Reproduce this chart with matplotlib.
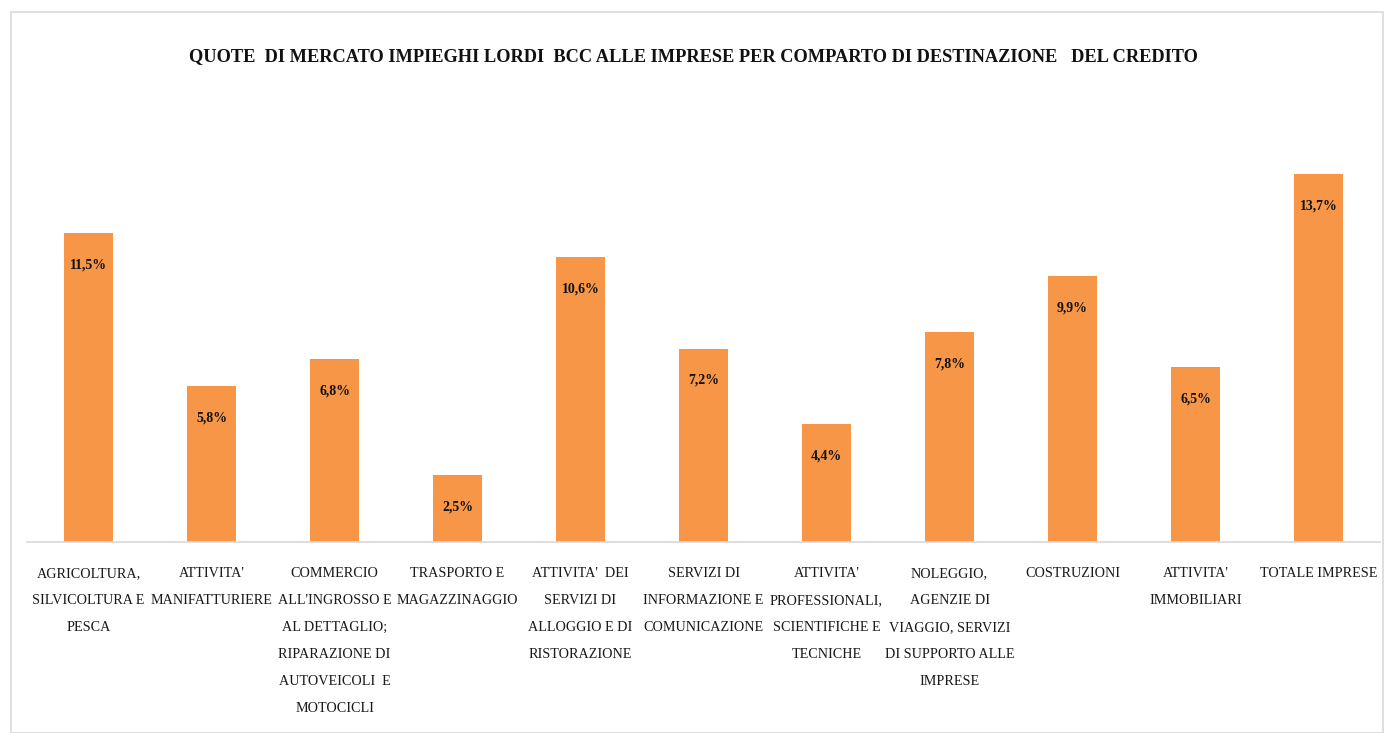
import matplotlib
matplotlib.use("Agg")
import matplotlib.pyplot as plt
from matplotlib.patches import Rectangle

categories = [
    "AGRICOLTURA,\nSILVICOLTURA E\nPESCA",
    "ATTIVITA'\nMANIFATTURIERE",
    "COMMERCIO\nALL'INGROSSO E\nAL DETTAGLIO;\nRIPARAZIONE DI\nAUTOVEICOLI  E\nMOTOCICLI",
    "TRASPORTO E\nMAGAZZINAGGIO",
    "ATTIVITA'  DEI\nSERVIZI DI\nALLOGGIO E DI\nRISTORAZIONE",
    "SERVIZI DI\nINFORMAZIONE E\nCOMUNICAZIONE",
    "ATTIVITA'\nPROFESSIONALI,\nSCIENTIFICHE E\nTECNICHE",
    "NOLEGGIO,\nAGENZIE DI\nVIAGGIO, SERVIZI\nDI SUPPORTO ALLE\nIMPRESE",
    "COSTRUZIONI",
    "ATTIVITA'\nIMMOBILIARI",
    "TOTALE IMPRESE",
]
values = [11.5, 5.8, 6.8, 2.5, 10.6, 7.2, 4.4, 7.8, 9.9, 6.5, 13.7]
value_labels = ["11,5%", "5,8%", "6,8%", "2,5%", "10,6%", "7,2%", "4,4%", "7,8%", "9,9%", "6,5%", "13,7%"]
title = "QUOTE  DI MERCATO IMPIEGHI LORDI  BCC ALLE IMPRESE PER COMPARTO DI DESTINAZIONE   DEL CREDITO"

FAM = "Liberation Serif"

W, H = 1387, 733
fig = plt.figure(figsize=(W / 100, H / 100), dpi=100)
fig.patches.append(Rectangle((11 / W, 0), (1383 - 11) / W, (H - 12) / H,
                             transform=fig.transFigure, fill=False,
                             edgecolor="#D9D9D9", linewidth=1.2))

ax = fig.add_axes([27 / W, (H - 542) / H, (1380 - 27) / W, (542 - 120) / H])
x = list(range(len(values)))
bars = ax.bar(x, values, width=0.4, color="#F79646")
ax.set_xlim(-0.5, len(values) - 0.5)
ax.set_ylim(0, (542 - 120) / 26.87)
for s in ["top", "right", "left"]:
    ax.spines[s].set_visible(False)
ax.spines["bottom"].set_color("#D9D9D9")
ax.spines["bottom"].set_linewidth(1.2)
ax.set_yticks([])
ax.set_xticks(x)
ax.set_xticklabels(categories, fontfamily=FAM, fontsize=10.2,
                   linespacing=2.4, va="top", ha="center", color="#1a1a1a")
ax.tick_params(axis="x", length=0, pad=18)

for xi, v, lab in zip(x, values, value_labels):
    ax.annotate(lab, (xi, v), xytext=(0, -23), textcoords="offset points",
                ha="center", va="center", fontsize=10, fontweight="bold",
                fontfamily=FAM, color="#111111")

fig.text(0.5, (H - 57) / H, title, ha="center", va="center", fontsize=13.2,
         fontweight="bold", fontfamily=FAM, color="#111111")

fig.savefig("out.png", dpi=100)
